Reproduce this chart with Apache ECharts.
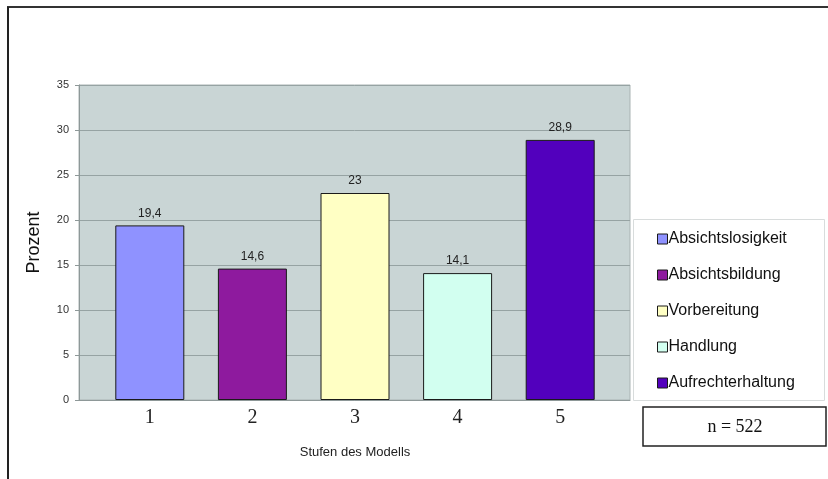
<!DOCTYPE html>
<html>
<head>
<meta charset="utf-8">
<script src="https://cdn.jsdelivr.net/npm/echarts@6/dist/echarts.min.js"></script>
<style>
html,body{margin:0;padding:0;background:#fff;}
#chart{width:828px;height:479px;}
</style>
</head>
<body>
<div id="chart"></div>
<script>
const categories = ['1', '2', '3', '4', '5'];
const stageNames = ['Absichtslosigkeit', 'Absichtsbildung', 'Vorbereitung', 'Handlung', 'Aufrechterhaltung'];
const values = [19.4, 14.6, 23, 14.1, 28.9];
const colors = ['#8f92ff', '#8e1a9e', '#ffffc4', '#d2fff0', '#5200bd'];
const yTicks = [0, 5, 10, 15, 20, 25, 30, 35];
const sampleNote = 'n = 522';

const chart = echarts.init(document.getElementById('chart'), null, {renderer: 'canvas'});

const series = stageNames.map((name, i) => ({
  name: name,
  type: 'bar',
  xAxisIndex: 1,
  yAxisIndex: 1,
  barWidth: 69,
  barGap: '-100%',
  data: values.map((v, j) => (j === i ? v : null)),
  itemStyle: {color: colors[i], borderColor: '#1a1a1a', borderWidth: 1},
  label: {
    show: true,
    position: 'top',
    distance: 6,
    fontFamily: 'Liberation Sans',
    fontSize: 12,
    color: '#222',
    formatter: p => String(p.value).replace('.', ',')
  }
}));

const option = {
  animation: false,
  backgroundColor: '#ffffff',
  grid: [
    {left: 79, right: 198, top: 85, bottom: 79, show: true, backgroundColor: '#c9d5d5', borderColor: '#a9b3b3', borderWidth: 1, containLabel: false},
    {left: 98.5, right: 216.5, top: 85, bottom: 79, containLabel: false}
  ],
  xAxis: [
    {gridIndex: 0, type: 'value', min: 0, max: 1, axisLine: {show: true, lineStyle: {color: '#8e9898'}}, axisTick: {show: false}, axisLabel: {show: false}, splitLine: {show: false}},
    {gridIndex: 1, type: 'category', data: categories,
     axisLine: {show: false}, axisTick: {show: false},
     axisLabel: {fontFamily: 'Liberation Serif', fontSize: 20, color: '#222', margin: 8},
     name: 'Stufen des Modells', nameLocation: 'middle', nameGap: 46,
     nameTextStyle: {fontFamily: 'Liberation Sans', fontSize: 13, color: '#222'}}
  ],
  yAxis: [
    {gridIndex: 0, type: 'value', min: yTicks[0], max: yTicks[yTicks.length - 1], interval: 5,
     axisLine: {show: true, lineStyle: {color: '#8e9898'}},
     axisTick: {show: true, length: 4, lineStyle: {color: '#8e9898'}},
     axisLabel: {fontFamily: 'Liberation Sans', fontSize: 11, color: '#333', margin: 10},
     splitLine: {show: true, lineStyle: {color: '#96a3a3', width: 1}},
     name: 'Prozent', nameLocation: 'middle', nameGap: 36, nameRotate: 90,
     nameTextStyle: {fontFamily: 'Liberation Sans', fontSize: 18, color: '#111'}},
    {gridIndex: 1, type: 'value', min: yTicks[0], max: yTicks[yTicks.length - 1], interval: 5, show: false}
  ],
  legend: {
    orient: 'vertical',
    left: 633,
    top: 219,
    data: stageNames,
    icon: 'rect',
    itemWidth: 10,
    itemHeight: 10,
    itemGap: 20,
    padding: [12, 10, 9, 24],
    selectedMode: false,
    textStyle: {fontFamily: 'Liberation Sans', fontSize: 16, color: '#111', lineHeight: 16, padding: [0, 0, 0, -4]},
    itemStyle: {borderColor: '#1a1a1a', borderWidth: 1}
  },
  graphic: [
    {type: 'line', shape: {x1: 7, y1: 7, x2: 828, y2: 7}, style: {stroke: '#333', lineWidth: 2}},
    {type: 'line', shape: {x1: 8, y1: 7, x2: 8, y2: 479}, style: {stroke: '#222', lineWidth: 2}},
    {type: 'rect', z: -1, shape: {x: 633.5, y: 219.5, width: 191, height: 181}, style: {fill: '#fff', stroke: '#d8dcdc', lineWidth: 1}},
    {type: 'rect', shape: {x: 643, y: 407, width: 183, height: 39}, style: {fill: '#fff', stroke: '#222', lineWidth: 1.5}},
    {type: 'text', x: 735, y: 427, style: {text: sampleNote, fontFamily: 'Liberation Serif', fontSize: 18, fill: '#111', align: 'center', verticalAlign: 'middle'}}
  ],
  series: series
};
chart.setOption(option);
</script>
</body>
</html>
